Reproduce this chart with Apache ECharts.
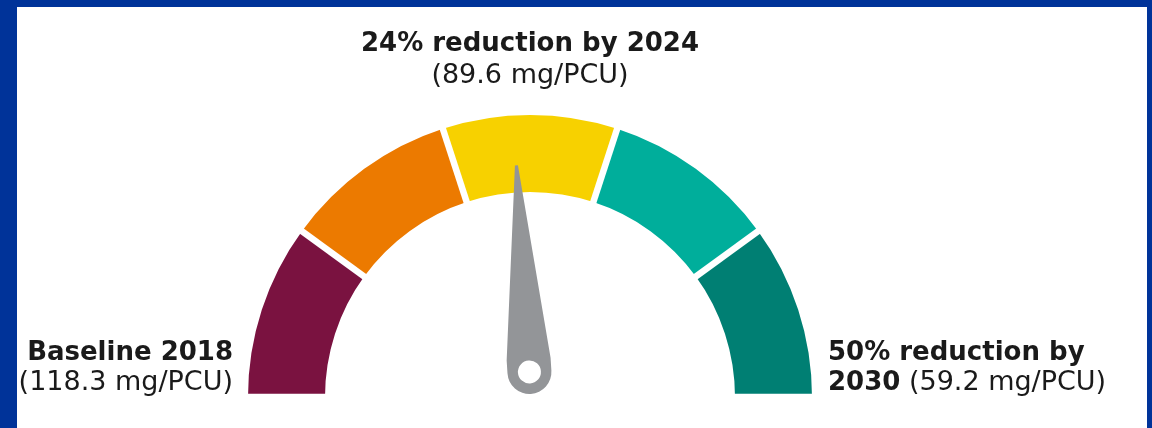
<!doctype html>
<html>
<head>
<meta charset="utf-8">
<script src="https://cdn.jsdelivr.net/npm/echarts@6/dist/echarts.min.js"></script>
<style>
  html, body { margin: 0; padding: 0; background: #003399; width: 1152px; height: 428px; overflow: hidden; }
  #chart { position: absolute; left: 17px; top: 7px; width: 1130px; height: 421px; background: #fff; }
</style>
</head>
<body>
<div id="chart"></div>
<script>
// targets (% reduction) and the mg/PCU values behind them
var scaleMin = 0;
var scaleMax = 50;          // 50% reduction by 2030
var currentReduction = 24;  // 24% reduction by 2024 -> needle
var segmentColors = ['#7a1240', '#ec7a00', '#f7d100', '#00ae9b', '#007f73'];
var baselineText = ['Baseline 2018', '(118.3 mg/PCU)'];
var midText = ['24% reduction by 2024', '(89.6 mg/PCU)'];
var endText = ['50% reduction by', '2030', ' (59.2 mg/PCU)'];

var font = '"DejaVu Sans", Verdana, sans-serif';
var ink = '#1a1a1a';
var boldFont = 'bold 26px ' + font;
var plainFont = '27px ' + font;

var colorStops = segmentColors.map(function (c, i) {
  return [(i + 1) / segmentColors.length, c];
});

// needle: narrow tip, straight sides, round base with a hole in it
var needlePath = 'path://M20.5 0 L23.5 0 L44 194 L44 207 A22 22 0 0 1 0 207 L0 194 Z ' +
  'M33.5 207 A11.5 11.5 0 1 0 10.5 207 A11.5 11.5 0 1 0 33.5 207 Z';

var myChart = echarts.init(document.getElementById('chart'));

var option = {
  animation: false,
  series: [{
    type: 'gauge',
    center: [513, 390],
    radius: 282,
    startAngle: 180,
    endAngle: 0,
    min: scaleMin,
    max: scaleMax,
    splitNumber: segmentColors.length,
    axisLine: {
      lineStyle: { width: 77, color: colorStops }
    },
    splitLine: {
      show: true,
      distance: -80,
      length: 84,
      lineStyle: { color: '#fff', width: 6.5 }
    },
    axisTick: { show: false },
    axisLabel: { show: false },
    pointer: {
      show: true,
      icon: needlePath,
      width: 44,
      length: 229,
      offsetCenter: [1, -3],
      itemStyle: { color: '#939598' }
    },
    anchor: { show: false },
    title: { show: false },
    detail: { show: false },
    data: [{ value: currentReduction }]
  }],
  graphic: [
    {
      type: 'text', x: 513, y: 37,
      style: { text: midText[0], font: boldFont, fill: ink, align: 'center', verticalAlign: 'middle' }
    },
    {
      type: 'text', x: 513, y: 69,
      style: { text: midText[1], font: plainFont, fill: ink, align: 'center', verticalAlign: 'middle' }
    },
    {
      type: 'text', x: 216, y: 346,
      style: { text: baselineText[0], font: boldFont, fill: ink, align: 'right', verticalAlign: 'middle' }
    },
    {
      type: 'text', x: 216, y: 376,
      style: { text: baselineText[1], font: plainFont, fill: ink, align: 'right', verticalAlign: 'middle' }
    },
    {
      type: 'text', x: 811, y: 346,
      style: { text: endText[0], font: boldFont, fill: ink, align: 'left', verticalAlign: 'middle' }
    },
    {
      type: 'text', x: 811, y: 376,
      style: {
        text: '{b|' + endText[1] + '}{r|' + endText[2] + '}',
        align: 'left', verticalAlign: 'middle',
        rich: {
          b: { font: boldFont, fill: ink },
          r: { font: plainFont, fill: ink }
        }
      }
    }
  ]
};

myChart.setOption(option);
</script>
</body>
</html>
